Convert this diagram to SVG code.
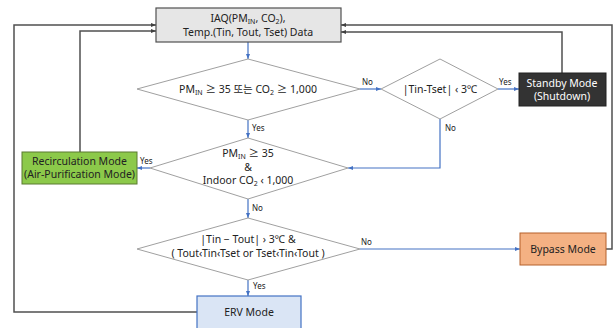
<svg xmlns="http://www.w3.org/2000/svg" width="615" height="328" viewBox="0 0 615 328">
<defs>
<marker id="ab" viewBox="0 0 10 10" refX="10" refY="5" markerWidth="5" markerHeight="5" orient="auto" markerUnits="userSpaceOnUse"><path d="M0,1 L10,5 L0,9 z" fill="#4472c4"/></marker>
<marker id="ag" viewBox="0 0 10 10" refX="10" refY="5" markerWidth="5" markerHeight="5" orient="auto" markerUnits="userSpaceOnUse"><path d="M0,1 L10,5 L0,9 z" fill="#404040"/></marker>
</defs>
<style>
text{font-family:"Noto Sans","Noto Sans CJK KR",sans-serif;fill:#222;text-anchor:middle}
.t{font-size:10.5px}
.l{font-size:8px;text-anchor:start}
.d{fill:#fff;stroke:#a0a0a0;stroke-width:1}
.f{fill:none;stroke:#4472c4;stroke-width:1.2;marker-end:url(#ab)}
.g{fill:none;stroke:#505050;stroke-width:1.5;marker-end:url(#ag)}
</style>
<rect width="615" height="328" fill="#fff"/>
<g id="connectors">
<path class="g" d="M197,312 H14 V25 H156"/>
<path class="g" d="M80,152 V31 H156"/>
<path class="g" d="M562,73 V32 H341"/>
<path class="g" d="M606,249 H612 V25 H341"/>
<path class="f" d="M248,42 V59"/>
<path class="f" d="M360,89 H381"/>
<path class="f" d="M498,89 H519"/>
<path class="f" d="M440,119 V168 H348"/>
<path class="f" d="M248,120 V138"/>
<path class="f" d="M150,168 H137"/>
<path class="f" d="M248,199 V218"/>
<path class="f" d="M360,249 H520"/>
<path class="f" d="M248,280 V296"/>
<text class="l" x="362" y="85">No</text>
<text class="l" x="499" y="85">Yes</text>
<text class="l" x="445" y="131">No</text>
<text class="l" x="252" y="131">Yes</text>
<text class="l" x="140" y="164">Yes</text>
<text class="l" x="252" y="211">No</text>
<text class="l" x="361" y="245">No</text>
<text class="l" x="253" y="289">Yes</text>
</g>
<g id="data">
<rect x="156" y="8" width="185" height="34" fill="#e6e6e6" stroke="#505050" stroke-width="1.2"/>
<text class="t" x="248" y="22">IAQ(PM<tspan font-size="7" dy="2">IN</tspan><tspan dy="-2">, CO</tspan><tspan font-size="7" dy="2">2</tspan><tspan dy="-2">),</tspan></text>
<text class="t" x="248" y="36">Temp.(Tin, Tout, Tset) Data</text>
</g>
<g id="cond1">
<polygon class="d" points="137,89 248,59 360,89 248,120"/>
<text class="t" x="248" y="93">PM<tspan font-size="7" dy="2">IN</tspan><tspan dy="-2"> ≥ 35 또는 CO</tspan><tspan font-size="7" dy="2">2</tspan><tspan dy="-2"> ≥ 1,000</tspan></text>
</g>
<g id="cond2">
<polygon class="d" points="381,89 440,59 498,89 440,119"/>
<text class="t" x="440" y="93">|Tin-Tset| ‹ 3℃</text>
</g>
<g id="standby">
<rect x="519" y="73" width="87" height="33" fill="#333" stroke="#222" stroke-width="1"/>
<text class="t" x="562" y="87" style="fill:#fff">Standby Mode</text>
<text class="t" x="562" y="100" style="fill:#fff">(Shutdown)</text>
</g>
<g id="cond3">
<polygon class="d" points="150,168 248,138 348,168 248,199"/>
<text class="t" x="248" y="157">PM<tspan font-size="7" dy="2">IN</tspan><tspan dy="-2"> ≥ 35</tspan></text>
<text class="t" x="248" y="171">&amp;</text>
<text class="t" x="248" y="184">Indoor CO<tspan font-size="7" dy="2">2</tspan><tspan dy="-2"> ‹ 1,000</tspan></text>
</g>
<g id="recirc">
<rect x="22" y="152" width="115" height="32" fill="#8cc94a" stroke="#5a7a30" stroke-width="1"/>
<text class="t" x="79.5" y="165">Recirculation Mode</text>
<text class="t" x="79.5" y="178">(Air-Purification Mode)</text>
</g>
<g id="cond4">
<polygon class="d" points="137,249 248,218 360,249 248,280"/>
<text class="t" x="248" y="243">|Tin − Tout| › 3℃ &amp;</text>
<text class="t" x="248" y="257">( Tout‹Tin‹Tset or Tset‹Tin‹Tout )</text>
</g>
<g id="bypass">
<rect x="520" y="233" width="86" height="32" fill="#f4b183" stroke="#b5612a" stroke-width="1"/>
<text class="t" x="563" y="253">Bypass Mode</text>
</g>
<g id="erv">
<rect x="197" y="296" width="104" height="40" fill="#dae5f5" stroke="#4472c4" stroke-width="1.2"/>
<text class="t" x="249" y="316">ERV Mode</text>
</g>
</svg>
